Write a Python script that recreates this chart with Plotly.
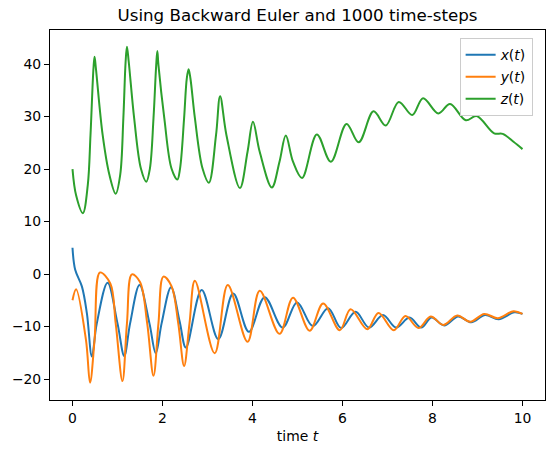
import plotly.graph_objects as go

# values (time, value)
t_x = [0, 0.06, 0.21, 0.32, 0.43, 0.54, 0.78, 1.0, 1.15, 1.28, 1.49, 1.71, 1.85, 1.98, 2.19,
       2.38, 2.52, 2.87, 3.24, 3.57, 3.92, 4.27, 4.67, 4.99, 5.34, 5.68, 5.97, 6.29, 6.59,
       6.90, 7.19, 7.49, 7.75, 7.98, 8.26, 8.57, 8.86, 9.17, 9.47, 9.82, 10]
x_vals = [5.0, 0.8, -2.4, -7.5, -15.7, -9.4, -1.65, -9.4, -15.6, -9.4, -2.1, -9.4, -15.1, -9.4, -2.5,
          -9.0, -14.0, -3.05, -12.4, -3.7, -11.0, -4.4, -10.2, -5.4, -9.9, -6.5, -10.3, -7.2, -10.2,
          -7.8, -10.2, -8.3, -10.2, -8.3, -9.8, -8.1, -9.2, -7.8, -8.6, -7.3, -7.6]

t_y = [0, 0.08, 0.30, 0.39, 0.49, 0.61, 0.84, 0.96, 1.11, 1.21, 1.32, 1.50, 1.66, 1.80, 1.91, 2.02,
       2.20, 2.35, 2.48, 2.60, 2.72, 3.16, 3.45, 3.89, 4.16, 4.60, 4.90, 5.27, 5.57, 5.94, 6.18,
       6.55, 6.80, 7.14, 7.40, 7.69, 7.96, 8.24, 8.55, 8.84, 9.15, 9.45, 9.80, 10]
y_vals = [-5.0, -2.9, -12.6, -20.7, -12.6, 0.3, -1.8, -9.4, -20.4, -9.4, -0.07, -1.5, -9.4, -19.4, -9.4, -0.5,
          -2.3, -9.4, -17.5, -9.4, -1.3, -15.1, -2.1, -12.9, -3.2, -11.4, -4.5, -10.8, -5.6, -10.7, -6.7,
          -10.5, -7.4, -10.7, -8.0, -10.3, -8.1, -9.7, -7.9, -9.1, -7.6, -8.4, -7.1, -7.6]

t_z = [0, 0.08, 0.23, 0.34, 0.40, 0.466, 0.49, 0.52, 0.67, 0.82, 0.96,
       1.06, 1.13, 1.18, 1.21, 1.25, 1.37, 1.52, 1.64,
       1.72, 1.80, 1.86, 1.885, 1.91, 2.04, 2.20, 2.33,
       2.39, 2.48, 2.54, 2.58, 2.62, 2.72, 2.89, 3.03,
       3.19, 3.28, 3.42, 3.72, 3.89, 4.01, 4.16, 4.43, 4.60, 4.74, 4.90,
       5.10, 5.43, 5.74, 6.09, 6.36, 6.69, 6.96, 7.25, 7.55, 7.79, 8.13, 8.39, 8.74, 8.98, 9.37,
       9.56, 9.8, 10]
z_vals = [20.0, 15.0, 11.6, 17.0, 26.5, 39.2, 41.4, 39.2, 26.5, 18.9, 15.3,
          18.9, 29.7, 40.4, 43.3, 40.4, 29.7, 20.1, 17.6,
          20.1, 29.7, 39.8, 42.5, 39.8, 29.7, 20.1, 18.0,
          20.1, 29.7, 37.3, 39.0, 37.3, 29.7, 20.1, 17.4,
          26.5, 33.9, 26.5, 16.4, 23.3, 29.0, 23.3, 16.5, 21.4, 26.4, 21.4,
          18.3, 26.6, 21.4, 28.6, 25.1, 31.0, 28.3, 32.8, 30.3, 33.5, 30.6, 32.4, 29.3, 30.1, 26.8,
          26.7, 25.2, 23.8]

series = [
    ("<i>x</i>(<i>t</i>)", t_x, x_vals, "#1f77b4"),
    ("<i>y</i>(<i>t</i>)", t_y, y_vals, "#ff7f0e"),
    ("<i>z</i>(<i>t</i>)", t_z, z_vals, "#2ca02c"),
]

fig = go.Figure()
for i, (name, t, v, color) in enumerate(series):
    fig.add_trace(go.Scatter(
        x=t, y=v, name=name, mode="lines", legendgroup=str(i),
        line=dict(color=color, width=2, shape="spline", smoothing=1.0),
    ))

axis_style = dict(
    showline=True, linecolor="black", linewidth=1, mirror=True, automargin=False,
    ticks="outside", ticklen=5, tickcolor="black", showgrid=False, zeroline=False,
    tickfont=dict(size=13.9, color="black"),
)

fig.update_layout(
    width=555, height=454,
    margin=dict(l=50, r=10, t=30, b=54),
    paper_bgcolor="white", plot_bgcolor="white",
    font=dict(family="DejaVu Sans", color="black"),
    title=dict(text="Using Backward Euler and 1000 time-steps", x=0.5, xref="paper",
               y=1 - 15.5 / 454, yref="container", yanchor="middle", font=dict(size=16.7)),
    legend=dict(x=0.975, y=0.978, xanchor="right", yanchor="top", tracegroupgap=1,
                bgcolor="rgba(255,255,255,0.8)", bordercolor="#cccccc", borderwidth=1,
                font=dict(size=13.9)),
)
fig.update_xaxes(range=[-0.5, 10.5], dtick=2, tick0=0,
                 title=dict(text="time <i>t</i>", font=dict(size=13.9), standoff=6), **axis_style)
fig.update_yaxes(range=[-24, 46.5], dtick=10, tick0=0, **axis_style)

fig.write_html("out.html", config={"displayModeBar": False},
               post_script="document.body.style.margin = '0';")
